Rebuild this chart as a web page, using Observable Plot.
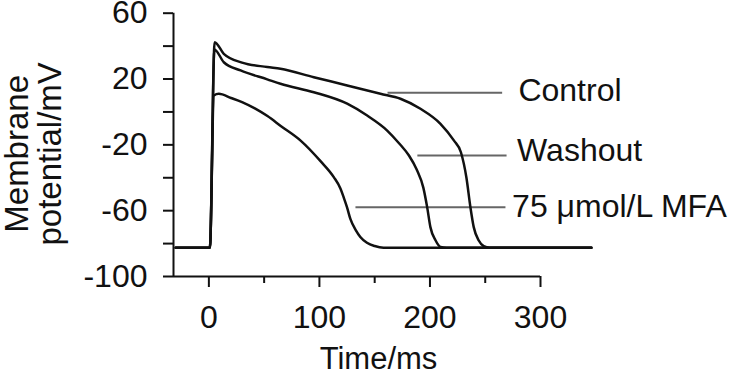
<!DOCTYPE html>
<html><head><meta charset="utf-8">
<script src="https://cdn.jsdelivr.net/npm/d3@7"></script>
<script src="https://cdn.jsdelivr.net/npm/@observablehq/plot@0.6"></script>
<style>html,body{margin:0;padding:0;background:#fff;}</style>
</head><body><div id="chart"></div>
<script>
const seriesNames = ["Control", "Washout", "75 μmol/L MFA"];

const controlTime = [-30, 0.9, 5.2, 13.5, 30, 52.8, 64.8, 94.9, 125.1, 155.2, 173.3, 191.4, 209.5, 221.6, 228, 233, 236.6, 239.6, 244, 248.6, 254, 346];
const controlMv   = [-82.5, -82.5, 42.4, 35.3, 30, 27.3, 26.2, 21.1, 16.1, 11.0, 8.0, 1.9, -7.2, -17.3, -24.5, -40, -57.9, -70, -78, -81.5, -82.5, -82.5];

const washoutTime = [-30, 0.9, 5, 13.5, 28.7, 52.8, 64.8, 94.9, 125.1, 143.2, 161.3, 172, 181, 188, 194, 197.5, 200.4, 205, 209.5, 215, 346];
const washoutMv   = [-82.5, -82.5, 38, 30.2, 25.2, 19.8, 17.1, 12.0, 5.0, -2.2, -11.3, -19, -26.5, -35, -46, -58, -70, -78, -82, -82.5, -82.5];

const mfaTime = [-30, 0.9, 4.5, 9, 20, 30, 42, 53, 65, 83, 101, 113, 119, 122, 125, 128, 133, 137, 143, 150, 158, 346];
const mfaMv   = [-82.5, -82.5, 10, 11, 8.5, 6, 2, -2.5, -8.5, -17.4, -29.9, -39.6, -46.5, -52, -58, -65, -72, -76, -79.5, -81.5, -82.5, -82.5];

const xDomain = [-32, 300];
const yDomain = [-100, 60];
const yTicks = [-100, -80, -60, -40, -20, 0, 20, 40, 60];
const yTickLabels = [-100, -60, -20, 20, 60];
const xMajorTicks = [0, 100, 200, 300];
const xMinorTicks = [50, 150, 250];

const labelTime = [280, 278.8, 274.3];
const labelMv = [12.7, -23.4, -57.4];
const leaderStart = [161.6, 188.6, 132.6];
const leaderEnd = [265.3, 269.3, 268.3];
const leaderMv = [11.6, -26.5, -57.9];

const seriesTimes = [controlTime, washoutTime, mfaTime];
const seriesValues = [controlMv, washoutMv, mfaMv];
const rows = seriesNames.flatMap((name, i) => seriesTimes[i].map((t, j) => ({series: name, t, v: seriesValues[i][j]})));
const labels = seriesNames.map((name, i) => ({name, t: labelTime[i], v: labelMv[i]}));
const leaders = seriesNames.map((name, i) => ({x1: leaderStart[i], x2: leaderEnd[i], y: leaderMv[i]}));

const plot = Plot.plot({
  width: 740, height: 376,
  marginLeft: 173, marginRight: 200, marginTop: 12.7, marginBottom: 100,
  x: {domain: xDomain},
  y: {domain: yDomain},
  style: {fontFamily: "'Liberation Sans', Arial, sans-serif", fontSize: "32px", color: "#111", background: "white"},
  marks: [
    Plot.axisY(yTicks, {tickSize: 10, tickPadding: 16, tickFormat: d => yTickLabels.includes(d) ? String(d) : "", fontSize: 32, strokeWidth: 2, label: null}),
    Plot.axisX(xMajorTicks, {tickSize: 11, tickPadding: 18, tickFormat: d => String(d), fontSize: 32, strokeWidth: 2, label: null}),
    Plot.axisX(xMinorTicks, {tickSize: 7, tickFormat: () => "", strokeWidth: 2, label: null}),
    Plot.ruleX([xDomain[0]], {strokeWidth: 2, stroke: "#111"}),
    Plot.ruleY([yDomain[0]], {strokeWidth: 2, stroke: "#111"}),
    Plot.link(leaders, {x1: "x1", x2: "x2", y1: "y", y2: "y", stroke: "#666", strokeWidth: 2}),
    Plot.line(rows, {x: "t", y: "v", z: "series", stroke: "#111", strokeWidth: 2.5, curve: "monotone-x"}),
    Plot.text(labels, {x: "t", y: "v", text: "name", textAnchor: "start", lineAnchor: "middle", fontSize: 32, fill: "#111"}),
    Plot.text(["Time/ms"], {frameAnchor: "bottom", textAnchor: "middle", dx: 21.5, dy: 70, lineAnchor: "top", fontSize: 31, fill: "#111"}),
    Plot.text(["Membrane\npotential/mV"], {frameAnchor: "left", textAnchor: "middle", rotate: -90, dx: -140, dy: 9, lineAnchor: "middle", fontSize: 33, lineHeight: 1, fill: "#111"})
  ]
});
document.getElementById("chart").appendChild(plot);
</script>
</body></html>
